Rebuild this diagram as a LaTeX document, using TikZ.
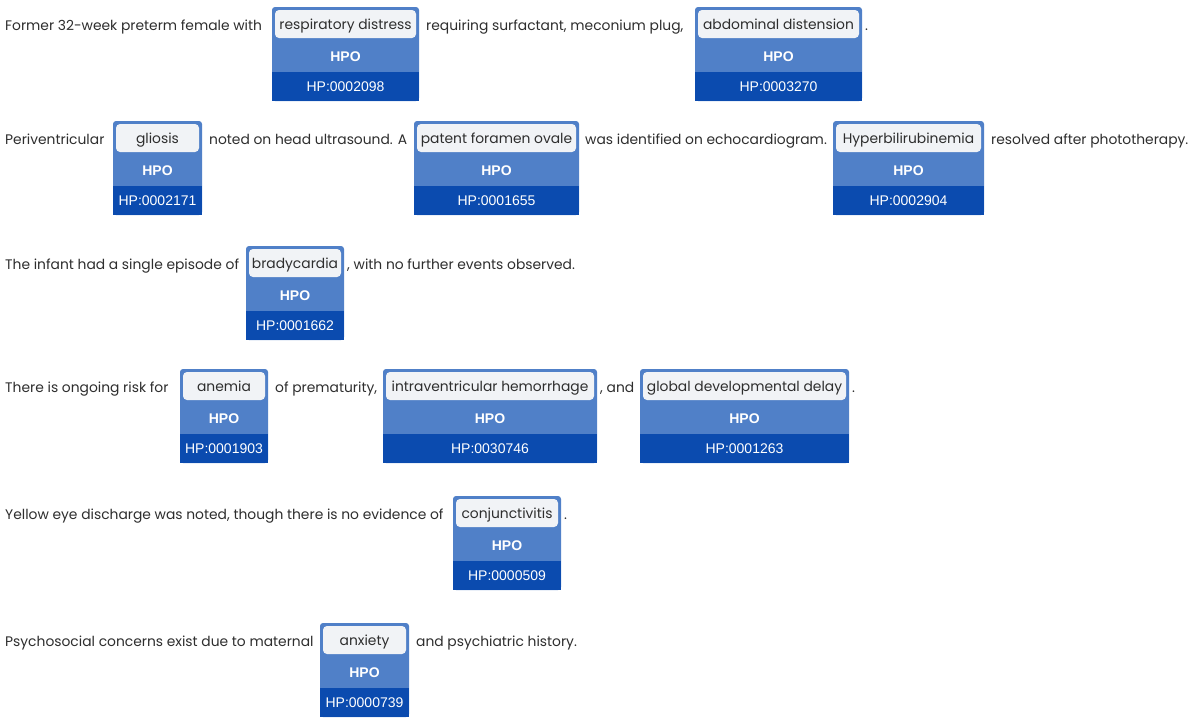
\documentclass[tikz,border=0pt]{standalone}
\usepackage{fontspec}
\setmainfont{Poppins}
\newfontfamily\labelfont{Liberation Sans}
\usepackage{tikz}
\definecolor{hpoblue}{HTML}{5080C8}
\definecolor{iddark}{HTML}{0B4BAF}
\definecolor{termgray}{HTML}{F1F3F6}
\definecolor{inktext}{HTML}{2E2E2E}
\begin{document}
\begin{tikzpicture}[x=1pt,y=-1pt,
        txt/.style={anchor=west,inner sep=0pt,text=inktext,font=\fontsize{13.85}{16}\selectfont,text height=12pt,text depth=1pt},
        hpobox/.style={fill=hpoblue,rounded corners=3pt,minimum height=94pt,inner sep=0pt},
        termbox/.style={fill=termgray,rounded corners=4pt,minimum height=28pt,inner sep=0pt,text=inktext,font=\fontsize{13.85}{16}\selectfont,text height=12pt,text depth=1pt},
        hpolabel/.style={inner sep=0pt,text=white,font=\labelfont\bfseries\fontsize{14}{16}\selectfont},
        idband/.style={fill=iddark,minimum height=29pt,inner sep=0pt,text=white,font=\labelfont\fontsize{14}{16}\selectfont}]
        \useasboundingbox[fill=white](0,0)rectangle(1190,723);
        % row 1
        \node[txt](s1a)at(5,25){Former 32-week preterm female with};
        \node[hpobox,minimum width=147pt](b1)at(345.5,54){};
        \node[termbox,minimum width=141pt](t1)at(345.5,24){respiratory distress};
        \node[hpolabel](h1)at(345.5,57){HPO};
        \node[idband,minimum width=147pt](i1)at(345.5,86.5){HP:0002098};
        \node[txt](s1b)at(426,25){requiring surfactant, meconium plug,};
        \node[hpobox,minimum width=167pt](b2)at(778.5,54){};
        \node[termbox,minimum width=161pt](t2)at(778.5,24){abdominal distension};
        \node[hpolabel](h2)at(778.5,57){HPO};
        \node[idband,minimum width=167pt](i2)at(778.5,86.5){HP:0003270};
        \node[txt](s1c)at(865,25){.};
        % row 2
        \node[txt](s2a)at(5,139){Periventricular};
        \node[hpobox,minimum width=89pt](b3)at(157.5,168){};
        \node[termbox,minimum width=83pt](t3)at(157.5,138){gliosis};
        \node[hpolabel](h3)at(157.5,171){HPO};
        \node[idband,minimum width=89pt](i3)at(157.5,200.5){HP:0002171};
        \node[txt](s2b)at(209,139){noted on head ultrasound. A};
        \node[hpobox,minimum width=165pt](b4)at(496.5,168){};
        \node[termbox,minimum width=159pt](t4)at(496.5,138){patent foramen ovale};
        \node[hpolabel](h4)at(496.5,171){HPO};
        \node[idband,minimum width=165pt](i4)at(496.5,200.5){HP:0001655};
        \node[txt](s2c)at(585,139){was identified on echocardiogram.};
        \node[hpobox,minimum width=151pt](b5)at(908.5,168){};
        \node[termbox,minimum width=145pt](t5)at(908.5,138){Hyperbilirubinemia};
        \node[hpolabel](h5)at(908.5,171){HPO};
        \node[idband,minimum width=151pt](i5)at(908.5,200.5){HP:0002904};
        \node[txt](s2d)at(991,139){resolved after phototherapy.};
        % row 3
        \node[txt](s3a)at(5,264){The infant had a single episode of};
        \node[hpobox,minimum width=98pt](b6)at(295,293){};
        \node[termbox,minimum width=92pt](t6)at(295,263){bradycardia};
        \node[hpolabel](h6)at(295,296){HPO};
        \node[idband,minimum width=98pt](i6)at(295,325.5){HP:0001662};
        \node[txt](s3b)at(347,264){, with no further events observed.};
        % row 4
        \node[txt](s4a)at(5,387){There is ongoing risk for};
        \node[hpobox,minimum width=88pt](b7)at(224,416){};
        \node[termbox,minimum width=82pt](t7)at(224,386){anemia};
        \node[hpolabel](h7)at(224,419){HPO};
        \node[idband,minimum width=88pt](i7)at(224,448.5){HP:0001903};
        \node[txt](s4b)at(275,387){of prematurity,};
        \node[hpobox,minimum width=214pt](b8)at(490,416){};
        \node[termbox,minimum width=208pt](t8)at(490,386){intraventricular hemorrhage};
        \node[hpolabel](h8)at(490,419){HPO};
        \node[idband,minimum width=214pt](i8)at(490,448.5){HP:0030746};
        \node[txt](s4c)at(600,387){, and};
        \node[hpobox,minimum width=209pt](b9)at(744.5,416){};
        \node[termbox,minimum width=203pt](t9)at(744.5,386){global developmental delay};
        \node[hpolabel](h9)at(744.5,419){HPO};
        \node[idband,minimum width=209pt](i9)at(744.5,448.5){HP:0001263};
        \node[txt](s4d)at(852,387){.};
        % row 5
        \node[txt](s5a)at(5,514){Yellow eye discharge was noted, though there is no evidence of};
        \node[hpobox,minimum width=108pt](b10)at(507,543){};
        \node[termbox,minimum width=102pt](t10)at(507,513){conjunctivitis};
        \node[hpolabel](h10)at(507,546){HPO};
        \node[idband,minimum width=108pt](i10)at(507,575.5){HP:0000509};
        \node[txt](s5b)at(564,514){.};
        % row 6
        \node[txt](s6a)at(5,641){Psychosocial concerns exist due to maternal};
        \node[hpobox,minimum width=89pt](b11)at(364.5,670){};
        \node[termbox,minimum width=83pt](t11)at(364.5,640){anxiety};
        \node[hpolabel](h11)at(364.5,673){HPO};
        \node[idband,minimum width=89pt](i11)at(364.5,702.5){HP:0000739};
        \node[txt](s6b)at(416,641){and psychiatric history.};
\end{tikzpicture}
\end{document}
